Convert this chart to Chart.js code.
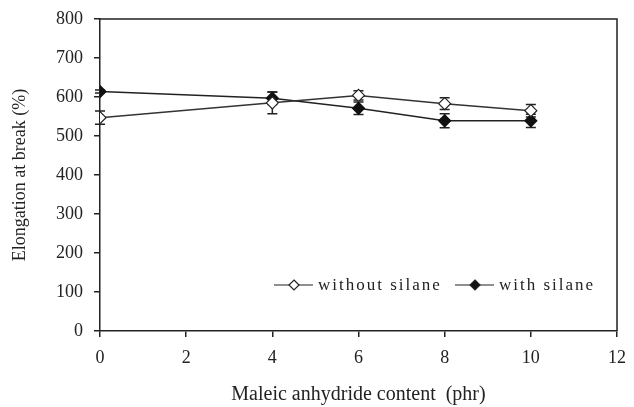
<!DOCTYPE html>
<html>
<head>
<meta charset="utf-8">
<script src="https://cdn.jsdelivr.net/npm/chart.js@4"></script>
<style>
  html, body { margin: 0; padding: 0; background: #fff; }
  #wrap { width: 634px; height: 407px; }
</style>
</head>
<body>
<div id="wrap"><canvas id="chart" width="634" height="407"></canvas></div>
<script>
// maleic anhydride content (phr)
const contents = [0, 4, 6, 8, 10];
const withoutSilane = [547, 585, 604, 583, 565];
const withoutSilaneErr = [17, 28, 12, 15, 16];
const withSilane = [614, 597, 571, 539, 539];
const withSilaneErr = [4, 16, 16, 18, 17];
const yTicks = [0, 100, 200, 300, 400, 500, 600, 700, 800];
const xTicks = [0, 2, 4, 6, 8, 10, 12];

const FONT = "'Liberation Serif', 'Times New Roman', serif";
const INK = "#222";

function toPoints(vals) {
  return contents.map((x, i) => ({ x: x, y: vals[i] }));
}

const errorBars = {
  id: "errorBars",
  beforeDatasetsDraw(chart) {
    const { ctx, scales } = chart;
    const errs = [withoutSilaneErr, withSilaneErr];
    ctx.save();
    ctx.strokeStyle = INK;
    ctx.lineWidth = 1.5;
    chart.data.datasets.forEach((ds, d) => {
      ds.data.forEach((p, i) => {
        const e = errs[d][i];
        const px = scales.x.getPixelForValue(p.x);
        const top = scales.y.getPixelForValue(p.y + e);
        const bot = scales.y.getPixelForValue(p.y - e);
        ctx.beginPath();
        ctx.moveTo(px, top); ctx.lineTo(px, bot);
        ctx.moveTo(px - 5, top); ctx.lineTo(px + 5, top);
        ctx.moveTo(px - 5, bot); ctx.lineTo(px + 5, bot);
        ctx.stroke();
      });
    });
    ctx.restore();
  }
};

const frameAndLegend = {
  id: "frameAndLegend",
  afterDraw(chart) {
    const { ctx, chartArea: a } = chart;
    ctx.save();
    ctx.strokeStyle = INK;
    ctx.lineWidth = 1.5;
    ctx.beginPath();
    ctx.moveTo(a.left, a.top); ctx.lineTo(a.right, a.top); ctx.lineTo(a.right, a.bottom);
    ctx.stroke();

    // legend inside plot area
    const y = 285;
    const items = [
      { label: "without silane", fill: "#fff", x: 274 },
      { label: "with silane", fill: "#111", x: 455 }
    ];
    ctx.font = "17px " + FONT;
    ctx.letterSpacing = "2px";
    ctx.textBaseline = "middle";
    items.forEach(it => {
      ctx.beginPath();
      ctx.moveTo(it.x, y); ctx.lineTo(it.x + 39, y);
      ctx.lineWidth = 1.2;
      ctx.stroke();
      const cx = it.x + 20;
      ctx.beginPath();
      ctx.moveTo(cx, y - 5); ctx.lineTo(cx + 5, y); ctx.lineTo(cx, y + 5); ctx.lineTo(cx - 5, y);
      ctx.closePath();
      ctx.fillStyle = it.fill;
      ctx.fill();
      ctx.stroke();
      ctx.fillStyle = INK;
      ctx.fillText(it.label, it.x + 44, y + 1);
    });
    ctx.restore();
  }
};

new Chart(document.getElementById("chart"), {
  type: "line",
  data: {
    datasets: [
      {
        label: "without silane",
        data: toPoints(withoutSilane),
        borderColor: "#333",
        borderWidth: 1.5,
        pointStyle: "rectRot",
        pointRadius: 6,
        pointBackgroundColor: "#fff",
        pointBorderColor: "#222",
        pointBorderWidth: 1.2,
        tension: 0
      },
      {
        label: "with silane",
        data: toPoints(withSilane),
        borderColor: "#222",
        borderWidth: 1.5,
        pointStyle: "rectRot",
        pointRadius: 6,
        pointBackgroundColor: "#111",
        pointBorderColor: "#111",
        pointBorderWidth: 1.2,
        tension: 0
      }
    ]
  },
  options: {
    responsive: false,
    animation: false,
    layout: { padding: { top: 19, right: 17, left: 0, bottom: 0 } },
    plugins: {
      legend: { display: false },
      tooltip: { enabled: false }
    },
    scales: {
      x: {
        type: "linear",
        min: 0,
        max: 12,
        afterBuildTicks(scale) { scale.ticks = xTicks.map(v => ({ value: v })); },
        afterFit(scale) {
          scale.height = 76;
          scale.paddingLeft = 0;
          scale.paddingRight = 0;
        },
        border: { color: INK, width: 1.5 },
        grid: { drawOnChartArea: false, tickLength: 6, color: INK, lineWidth: 1.5 },
        ticks: { color: INK, font: { family: FONT, size: 18 }, padding: 10, maxRotation: 0 },
        title: {
          display: true,
          text: "Maleic anhydride content  (phr)",
          color: INK,
          font: { family: FONT, size: 20 },
          padding: { top: 0, bottom: 0 }
        }
      },
      y: {
        min: 0,
        max: 800,
        afterBuildTicks(scale) { scale.ticks = yTicks.map(v => ({ value: v })); },
        afterFit(scale) {
          scale.width = 100;
          scale.paddingTop = 0;
          scale.paddingBottom = 0;
        },
        border: { color: INK, width: 1.5 },
        grid: { drawOnChartArea: false, tickLength: 6, color: INK, lineWidth: 1.5 },
        ticks: { color: INK, font: { family: FONT, size: 18 }, padding: 11 },
        title: {
          display: true,
          text: "Elongation at break (%)",
          color: INK,
          font: { family: FONT, size: 18 },
          padding: { top: 9, bottom: 0 }
        }
      }
    }
  },
  plugins: [errorBars, frameAndLegend]
});
</script>
</body>
</html>
